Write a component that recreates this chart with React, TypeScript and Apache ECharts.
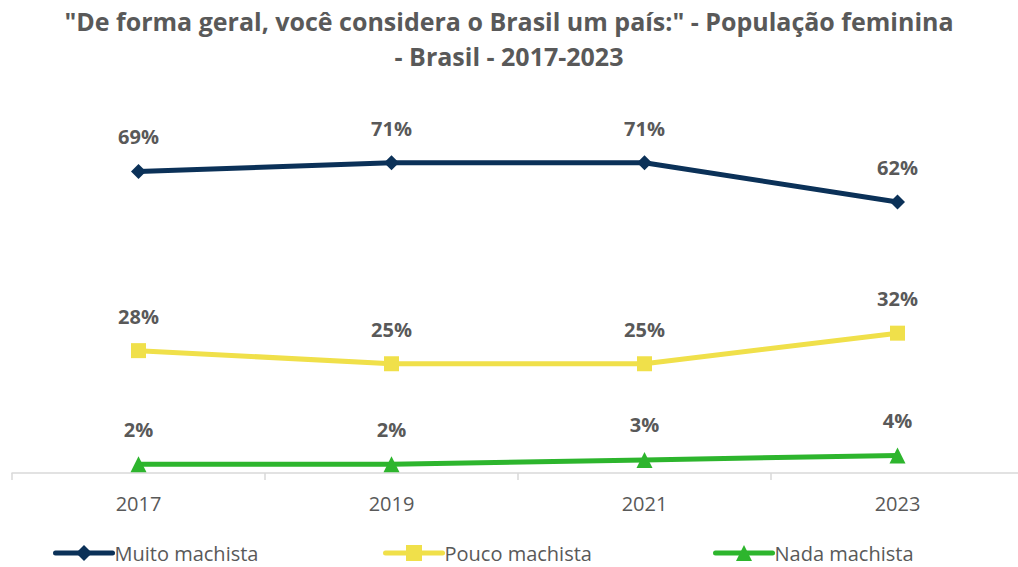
import React, { useEffect, useRef } from "react";
import * as echarts from "echarts";

const categories = ["2017", "2019", "2021", "2023"];
const muitoMachista = [69, 71, 71, 62];
const poucoMachista = [28, 25, 25, 32];
const nadaMachista = [2, 2, 3, 4];
const seriesNames = ["Muito machista", "Pouco machista", "Nada machista"];
const titleText = '"De forma geral, você considera o Brasil um país:" - População feminina\n- Brasil - 2017-2023';

const FONT = "'Open Sans', sans-serif";
const GREY = "#595959";

export default function App() {
  const ref = useRef<HTMLDivElement>(null);
  useEffect(() => {
    if (!ref.current) return;
    const chart = echarts.init(ref.current, undefined, { renderer: "svg" });
    const colors = ["#0B3158", "#F0E04A", "#2DB52D"];
    const symbols = ["diamond", "rect", "triangle"];
    const sizes = [15, 15, 16];
    const data = [muitoMachista, poucoMachista, nadaMachista];
    const legendLefts = [53, 383, 713];
    const option: any = {
      animation: false,
      title: {
        text: titleText,
        left: "center",
        top: -2,
        textStyle: {
          fontFamily: FONT,
          fontSize: 25,
          fontWeight: "bold",
          color: GREY,
          lineHeight: 35,
        },
      },
      legend: seriesNames.map((n, i) => ({
        data: [n],
        left: legendLefts[i],
        top: 543,
        padding: 0,
        itemWidth: 57,
        itemHeight: 20,
        itemGap: 0,
        lineStyle: { width: 5, cap: "round" },
        textStyle: { fontFamily: FONT, fontSize: 20, color: GREY, padding: [0, 0, 0, -3] },
      })),
      grid: { left: 12, width: 1012, top: 123.4, bottom: 94, containLabel: false, outerBoundsMode: "none" },
      xAxis: {
        type: "category",
        data: categories,
        boundaryGap: true,
        axisLine: { lineStyle: { color: "#D9D9D9", width: 1.5 } },
        axisTick: { show: true, length: 7, lineStyle: { color: "#D9D9D9", width: 1.5 } },
        axisLabel: { fontFamily: FONT, fontSize: 20, color: GREY, margin: 20 },
      },
      yAxis: {
        type: "value",
        min: 0,
        max: 80,
        show: false,
        splitLine: { show: false },
      },
      series: seriesNames.map((n, i) => ({
        name: n,
        type: "line",
        data: data[i],
        symbol: symbols[i],
        symbolSize: sizes[i],
        lineStyle: { color: colors[i], width: 5 },
        itemStyle: { color: colors[i] },
        label: {
          show: true,
          position: "top",
          distance: 17,
          formatter: "{c}%",
          fontFamily: FONT,
          fontSize: 20,
          fontWeight: "bold",
          color: GREY,
        },
      })),
    };
    chart.setOption(option);
    return () => chart.dispose();
  }, []);
  return <div ref={ref} style={{ width: 1018, height: 567, position: "absolute", left: 0, top: 0 }} />;
}
